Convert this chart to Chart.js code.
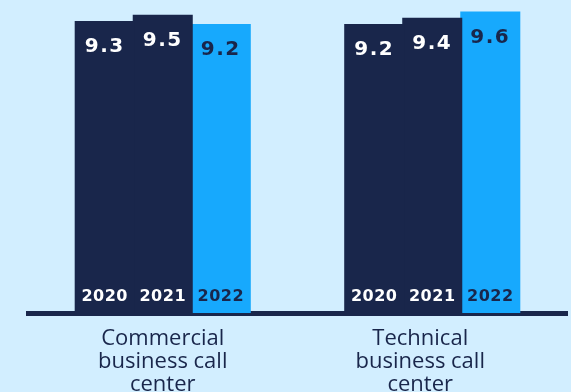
<!DOCTYPE html>
<html>
<head>
<meta charset="utf-8">
<script src="https://cdn.jsdelivr.net/npm/chart.js@4.4.1/dist/chart.umd.min.js"></script>
<style>
  html, body { margin: 0; padding: 0; background: #d2eeff; }
  #wrap { width: 571px; height: 392px; }
</style>
</head>
<body>
<div id="wrap"><canvas id="chart" width="571" height="392"></canvas></div>
<script>
const categories = [
  ['Commercial', 'business call', 'center'],
  ['Technical', 'business call', 'center']
];
const years = ['2020', '2021', '2022'];
const values2020 = [9.3, 9.2];
const values2021 = [9.5, 9.4];
const values2022 = [9.2, 9.6];

const NAVY = '#19264b';
const BRIGHT = '#17a9fd';
// the second caption sits a little left of its bar group
const captionNudge = [0, -12];

// writes the value at the top of each bar and the year at its foot
const barText = {
  id: 'barText',
  afterDatasetsDraw(chart) {
    const ctx = chart.ctx;
    ctx.save();
    ctx.textAlign = 'center';
    ctx.textBaseline = 'middle';
    chart.data.datasets.forEach((ds, i) => {
      const meta = chart.getDatasetMeta(i);
      const ink = ds.backgroundColor === NAVY ? '#ffffff' : NAVY;
      meta.data.forEach((bar, j) => {
        ctx.fillStyle = ink;
        ctx.letterSpacing = '1.5px';
        ctx.font = 'bold 20px "DejaVu Sans"';
        ctx.fillText(ds.data[j].toFixed(1), bar.x, bar.y + 25);
        ctx.letterSpacing = '0.5px';
        ctx.font = 'bold 16px "DejaVu Sans"';
        ctx.fillText(ds.label, bar.x, bar.base - 16);
      });
    });
    ctx.restore();
  }
};

// category captions under the axis line
const captions = {
  id: 'captions',
  afterDraw(chart) {
    const ctx = chart.ctx;
    const x = chart.scales.x;
    ctx.save();
    ctx.fillStyle = NAVY;
    ctx.font = '22px "Open Sans"';
    ctx.textAlign = 'center';
    ctx.textBaseline = 'alphabetic';
    chart.data.labels.forEach((lines, i) => {
      const cx = x.getPixelForValue(i) + captionNudge[i];
      lines.forEach((line, k) => {
        ctx.fillText(line, cx, x.top + 32 + k * 23);
      });
    });
    ctx.restore();
  }
};

new Chart(document.getElementById('chart'), {
  type: 'bar',
  data: {
    labels: categories,
    datasets: [
      { label: years[0], data: values2020, backgroundColor: NAVY },
      { label: years[1], data: values2021, backgroundColor: NAVY },
      { label: years[2], data: values2022, backgroundColor: BRIGHT }
    ]
  },
  options: {
    responsive: false,
    animation: false,
    layout: { padding: { left: 28, right: 4, top: 0, bottom: 0 } },
    plugins: { legend: { display: false }, tooltip: { enabled: false } },
    datasets: {
      bar: { categoryPercentage: 0.646, barPercentage: 1.0, inflateAmount: 1 }
    },
    scales: {
      x: {
        grid: { display: false },
        border: { color: NAVY, width: 5 },
        ticks: { display: false },
        afterFit(scale) { scale.height = 79; }
      },
      y: {
        display: false,
        min: 0,
        max: 10
      }
    }
  },
  plugins: [barText, captions]
});
</script>
</body>
</html>
